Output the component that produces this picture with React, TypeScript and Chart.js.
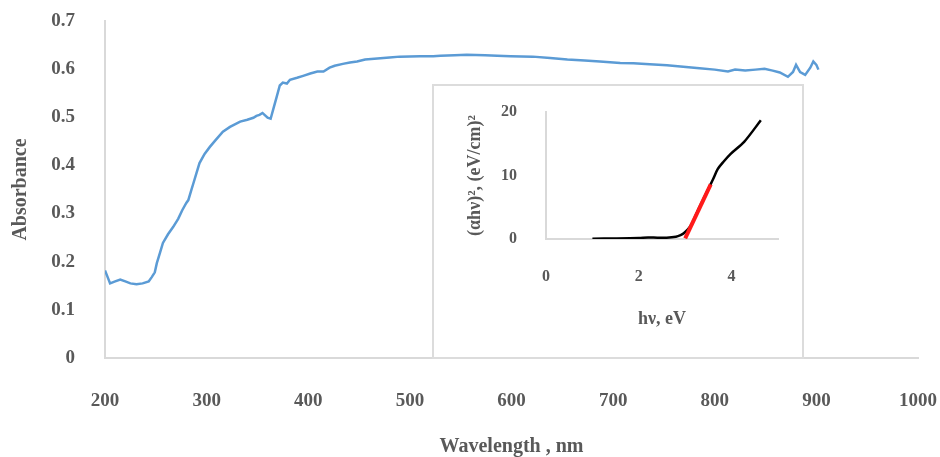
import React, { useEffect, useRef } from "react";
import { Chart, registerables } from "chart.js";

Chart.register(...registerables);

// Main spectrum: wavelength (nm) vs absorbance
const wavelength = [
  200, 205, 210, 215, 220, 225, 231, 237, 243, 246, 249, 251, 254, 257, 262, 267, 272, 276, 280, 282,
  285, 287, 290, 293, 298, 303, 309, 316, 323, 333, 340, 346, 349, 352, 355, 357, 360, 363, 366, 369,
  372, 375, 379, 382, 389, 395, 402, 409, 415, 421, 426, 434, 441, 448, 456, 468, 480, 490, 510, 523,
  530, 544, 556, 574, 586, 599, 621, 638, 655, 672, 687, 707, 720, 736, 753, 769, 785, 800, 813, 820,
  830, 840, 849, 857, 864, 872, 877, 880, 884, 889, 894, 897, 900, 902,
];
const absorbance = [
  0.182, 0.155, 0.159, 0.163, 0.159, 0.155, 0.153, 0.155, 0.159, 0.168, 0.178, 0.197, 0.218, 0.239, 0.257, 0.272, 0.289, 0.307, 0.322, 0.328,
  0.349, 0.363, 0.384, 0.405, 0.424, 0.438, 0.453, 0.47, 0.48, 0.491, 0.495, 0.499, 0.503, 0.505, 0.509, 0.505, 0.499, 0.497, 0.52, 0.543,
  0.566, 0.572, 0.57, 0.578, 0.582, 0.586, 0.591, 0.595, 0.595, 0.603, 0.607, 0.611, 0.614, 0.616, 0.62, 0.622, 0.624, 0.626, 0.627, 0.627,
  0.628, 0.629, 0.63, 0.629, 0.628, 0.627, 0.626, 0.623, 0.62, 0.618, 0.616, 0.613, 0.612, 0.61, 0.608, 0.605, 0.602, 0.599, 0.595, 0.599,
  0.597, 0.599, 0.601, 0.597, 0.593, 0.584, 0.594, 0.609, 0.594, 0.588, 0.603, 0.616, 0.609, 0.599,
];

// Inset Tauc plot: photon energy (eV) vs (αhν)²
const photonEnergy = [1.0, 1.5, 2.0, 2.2, 2.4, 2.6, 2.8, 2.9, 2.97, 3.1, 3.2, 3.3, 3.4, 3.5, 3.6, 3.7, 3.83, 3.98, 4.27, 4.63];
const taucValue = [0.05, 0.08, 0.15, 0.25, 0.2, 0.2, 0.35, 0.6, 0.9, 1.9, 3.3, 4.9, 6.4, 7.9, 9.4, 11.0, 12.2, 13.4, 15.3, 18.7];

// Linear fit segment (red)
const fitEnergy = [3.0, 3.55];
const fitValue = [0.1, 8.6];

const FONT = "'Liberation Serif', 'Times New Roman', serif";
const TEXT = "#595959";
const AXIS = "#d9d9d9";

const zeroHPad = (s: any) => {
  s.paddingLeft = 0;
  s.paddingRight = 0;
};
const zeroVPad = (s: any) => {
  s.paddingTop = 0;
  s.paddingBottom = 0;
};

export default function App() {
  const mainRef = useRef<HTMLCanvasElement | null>(null);
  const insetRef = useRef<HTMLCanvasElement | null>(null);

  useEffect(() => {
    if (!mainRef.current || !insetRef.current) return;

    const main = new Chart(mainRef.current, {
      type: "line",
      data: {
        datasets: [
          {
            data: wavelength.map((x, i) => ({ x, y: absorbance[i] })),
            borderColor: "#5b9bd5",
            borderWidth: 2.5,
            pointRadius: 0,
            tension: 0,
          },
        ],
      },
      options: {
        animation: false,
        responsive: false,
        devicePixelRatio: 1,
        layout: { padding: { top: 21, right: 22, bottom: 0, left: 0 } },
        plugins: { legend: { display: false }, tooltip: { enabled: false } },
        scales: {
          x: {
            type: "linear",
            min: 200,
            max: 1000,
            grid: { display: false, drawTicks: false },
            border: { display: true, color: AXIS, width: 2 },
            ticks: {
              stepSize: 100,
              padding: 32,
              maxRotation: 0,
              color: TEXT,
              font: { family: FONT, size: 19, weight: "bold" },
              callback: (v: any) => String(v),
            },
            title: {
              display: true,
              text: "Wavelength , nm",
              color: TEXT,
              font: { family: FONT, size: 20, weight: "bold", lineHeight: 1 },
              padding: { top: 0, bottom: 0 },
            },
            afterFit: (s: any) => {
              s.height = 99;
              zeroHPad(s);
            },
          },
          y: {
            type: "linear",
            min: 0,
            max: 0.7,
            grid: { display: false, drawTicks: false },
            border: { display: true, color: AXIS, width: 2 },
            ticks: {
              stepSize: 0.1,
              padding: 30,
              color: TEXT,
              font: { family: FONT, size: 19, weight: "bold" },
              callback: (v: any) => (Number(v) === 0 ? "0" : Number(v).toFixed(1)),
            },
            title: {
              display: true,
              text: "Absorbance",
              color: TEXT,
              font: { family: FONT, size: 20, weight: "bold", lineHeight: 1 },
              padding: { top: 11, bottom: 0 },
            },
            afterFit: (s: any) => {
              s.width = 105;
              zeroVPad(s);
            },
          },
        },
      },
    } as any);

    const inset = new Chart(insetRef.current, {
      type: "line",
      data: {
        datasets: [
          {
            data: fitEnergy.map((x, i) => ({ x, y: fitValue[i] })),
            borderColor: "#ff1a1a",
            borderWidth: 4,
            pointRadius: 0,
            tension: 0,
          },
          {
            data: photonEnergy.map((x, i) => ({ x, y: taucValue[i] })),
            borderColor: "#000000",
            borderWidth: 2.5,
            pointRadius: 0,
            tension: 0.3,
          },
        ],
      },
      options: {
        animation: false,
        responsive: false,
        devicePixelRatio: 1,
        layout: { padding: { top: 26, right: 24, bottom: 0, left: 0 } },
        plugins: { legend: { display: false }, tooltip: { enabled: false } },
        scales: {
          x: {
            type: "linear",
            min: 0,
            max: 5,
            grid: { display: false, drawTicks: false },
            border: { display: true, color: AXIS, width: 2 },
            ticks: {
              stepSize: 2,
              includeBounds: false,
              padding: 28,
              maxRotation: 0,
              color: TEXT,
              font: { family: FONT, size: 16, weight: "bold" },
              callback: (v: any) => String(v),
            },
            title: {
              display: true,
              text: "hν, eV",
              color: TEXT,
              font: { family: FONT, size: 18, weight: "bold", lineHeight: 1 },
              padding: { top: 0, bottom: 29 },
            },
            afterFit: (s: any) => {
              s.height = 118;
              zeroHPad(s);
            },
          },
          y: {
            type: "linear",
            min: 0,
            max: 20,
            grid: { display: false, drawTicks: false },
            border: { display: true, color: AXIS, width: 2 },
            ticks: {
              stepSize: 10,
              padding: 29,
              color: TEXT,
              font: { family: FONT, size: 16, weight: "bold" },
              callback: (v: any) => String(v),
            },
            title: {
              display: true,
              text: "(αhν)², (eV/cm)²",
              color: TEXT,
              font: { family: FONT, size: 18, weight: "bold", lineHeight: 1 },
              padding: { top: 32, bottom: 0 },
            },
            afterFit: (s: any) => {
              s.width = 112;
              zeroVPad(s);
            },
          },
        },
      },
    } as any);

    return () => {
      main.destroy();
      inset.destroy();
    };
  }, []);

  return (
    <div style={{ position: "fixed", left: 0, top: 0, width: 940, height: 457, background: "#fff" }}>
      <canvas ref={mainRef} width={940} height={457} style={{ position: "absolute", left: 0, top: 0 }} />
      <div
        style={{
          position: "absolute",
          left: 432,
          top: 84,
          width: 372,
          height: 275,
          boxSizing: "border-box",
          border: "2px solid #dcdcdc",
          background: "#fff",
        }}
      >
        <canvas ref={insetRef} width={368} height={271} style={{ display: "block" }} />
      </div>
    </div>
  );
}
